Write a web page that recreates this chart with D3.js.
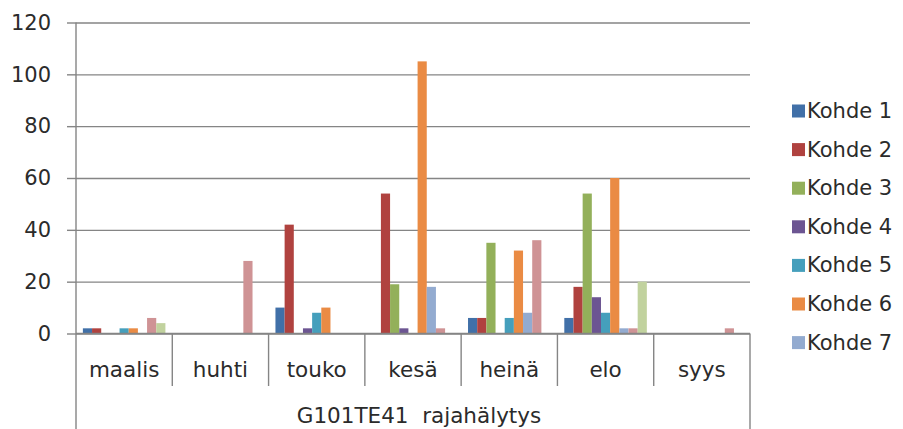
<!DOCTYPE html>
<html>
<head>
<meta charset="utf-8">
<script src="https://cdn.jsdelivr.net/npm/d3@7"></script>
<style>
  html, body { margin: 0; padding: 0; background: #ffffff; }
  svg { display: block; }
  text { font-family: "DejaVu Sans", sans-serif; fill: #2b2b2b; }
</style>
</head>
<body>
<svg id="chart" width="903" height="429"></svg>
<script>
// Monthly limit alarm counts per site
const categories = ["maalis", "huhti", "touko", "kesä", "heinä", "elo", "syys"];
const seriesNames = ["Kohde 1", "Kohde 2", "Kohde 3", "Kohde 4", "Kohde 5",
                     "Kohde 6", "Kohde 7", "Kohde 8", "Kohde 9"];
const kohde1 = [2, 0, 10, 0, 6, 6, 0];
const kohde2 = [2, 0, 42, 54, 6, 18, 0];
const kohde3 = [0, 0, 0, 19, 35, 54, 0];
const kohde4 = [0, 0, 2, 2, 0, 14, 0];
const kohde5 = [2, 0, 8, 0, 6, 8, 0];
const kohde6 = [2, 0, 10, 105, 32, 60, 0];
const kohde7 = [0, 0, 0, 18, 8, 2, 0];
const kohde8 = [6, 28, 0, 2, 36, 2, 2];
const kohde9 = [4, 0, 0, 0, 0, 20, 0];
const yTicks = [0, 20, 40, 60, 80, 100, 120];
const groupLabel = "G101TE41  rajahälytys";
const legendCount = 7; // the legend box only has room for the first seven

const seriesValues = [kohde1, kohde2, kohde3, kohde4, kohde5, kohde6, kohde7, kohde8, kohde9];
const colors = ["#4170a8", "#b0423f", "#93b05a", "#6c5592", "#459fbc",
                "#ea8b44", "#93abd0", "#cf9395", "#c1d29e"];

const svg = d3.select("#chart");
const plotLeft = 76, plotRight = 750, plotTop = 22.5, plotBottom = 333.5;
const gridColor = "#858585";

const x = d3.scaleBand().domain(categories).range([plotLeft, plotRight]).padding(0);
const xs = d3.scaleBand().domain(seriesNames).range([0, x.bandwidth()])
  .paddingInner(0).paddingOuter(0.75);
const y = d3.scaleLinear().domain([0, 120]).range([plotBottom, plotTop]);
const color = d3.scaleOrdinal().domain(seriesNames).range(colors);

// gridlines
svg.append("g")
  .attr("transform", `translate(${plotLeft},0)`)
  .call(d3.axisLeft(y).tickValues(yTicks).tickSize(-(plotRight - plotLeft)).tickFormat(""))
  .call(g => g.select(".domain").remove())
  .call(g => g.selectAll("line").attr("stroke", gridColor).attr("stroke-width", 1.4));

// y axis with outside ticks and labels
svg.append("g")
  .attr("transform", `translate(${plotLeft},0)`)
  .call(d3.axisLeft(y).tickValues(yTicks).tickSize(9).tickPadding(16))
  .call(g => g.select(".domain").remove())
  .call(g => g.selectAll("line").attr("stroke", gridColor).attr("stroke-width", 1.4))
  .call(g => g.selectAll("text").attr("font-size", 21).attr("fill", "#2b2b2b")
    .style("font-family", "'DejaVu Sans', sans-serif"));

// bars
const table = [];
seriesValues.forEach((vals, si) => {
  vals.forEach((v, ci) => table.push({ series: seriesNames[si], cat: categories[ci], value: v }));
});
svg.append("g").selectAll("rect")
  .data(table.filter(d => d.value > 0))
  .join("rect")
  .attr("x", d => x(d.cat) + xs(d.series))
  .attr("width", xs.bandwidth())
  .attr("y", d => y(d.value))
  .attr("height", d => y(0) - y(d.value))
  .attr("fill", d => color(d.series));

// vertical axis line and category frame
svg.append("line").attr("x1", plotLeft).attr("x2", plotLeft).attr("y1", plotTop).attr("y2", 429)
  .attr("stroke", gridColor).attr("stroke-width", 1.4);
svg.append("line").attr("x1", plotRight).attr("x2", plotRight).attr("y1", plotBottom).attr("y2", 429)
  .attr("stroke", gridColor).attr("stroke-width", 1.4);
svg.append("line").attr("x1", plotLeft).attr("x2", plotRight).attr("y1", plotBottom).attr("y2", plotBottom)
  .attr("stroke", gridColor).attr("stroke-width", 1.4);

// separators between categories
svg.append("g").selectAll("line")
  .data(categories.slice(1))
  .join("line")
  .attr("x1", d => x(d)).attr("x2", d => x(d))
  .attr("y1", plotBottom).attr("y2", 386)
  .attr("stroke", gridColor).attr("stroke-width", 1.4);

// category labels
svg.append("g").selectAll("text")
  .data(categories)
  .join("text")
  .attr("x", d => x(d) + x.bandwidth() / 2)
  .attr("y", 377)
  .attr("text-anchor", "middle")
  .attr("font-size", 21.5)
  .text(d => d);

// group label (two spaces kept between the parts)
svg.append("text")
  .attr("x", (plotLeft + plotRight) / 2 + 6)
  .attr("y", 423)
  .attr("text-anchor", "middle")
  .attr("font-size", 21.5)
  .style("white-space", "pre")
  .attr("xml:space", "preserve")
  .text(groupLabel);

// legend
const legend = svg.append("g").selectAll("g")
  .data(seriesNames.slice(0, legendCount))
  .join("g")
  .attr("transform", (d, i) => `translate(792,${110.5 + i * 38.6})`);
legend.append("rect")
  .attr("x", 0).attr("y", -6).attr("width", 13).attr("height", 13)
  .attr("fill", d => color(d));
legend.append("text")
  .attr("x", 15).attr("y", 7.5)
  .attr("font-size", 21)
  .text(d => d);
</script>
</body>
</html>
